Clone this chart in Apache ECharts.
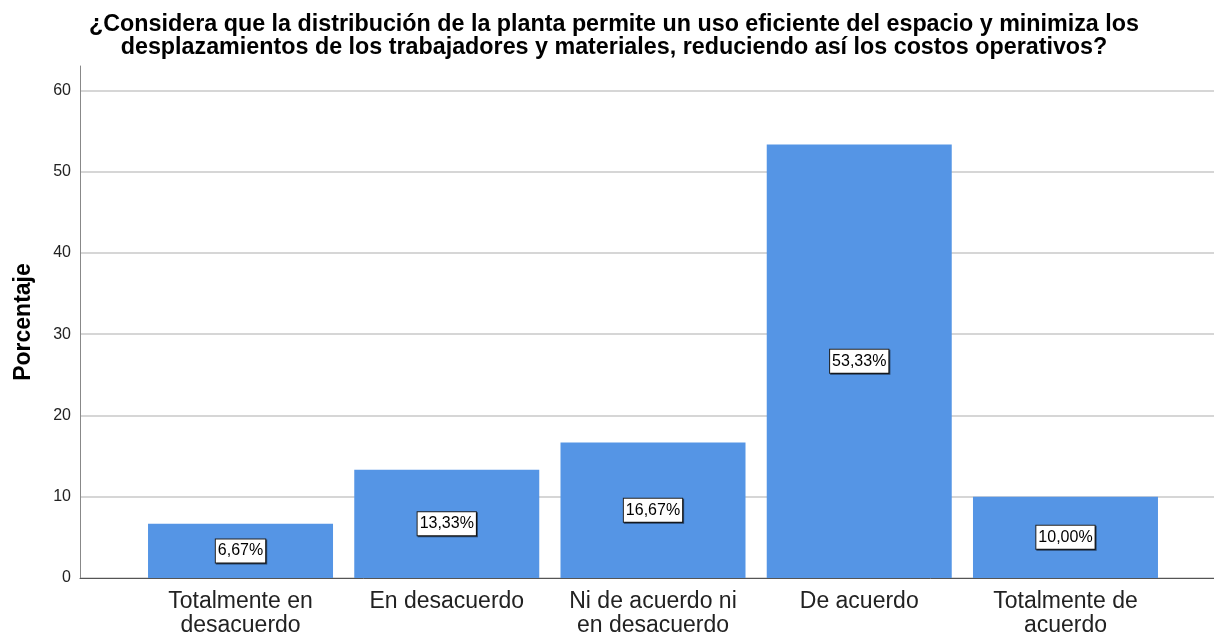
<!DOCTYPE html>
<html>
<head>
<meta charset="utf-8">
<script src="https://cdn.jsdelivr.net/npm/echarts@6/dist/echarts.min.js"></script>
<style>
  html, body { margin: 0; padding: 0; background: #fff; }
  #chart { width: 1214px; height: 634px; }
</style>
</head>
<body>
<div id="chart"></div>
<script>
// categorias y porcentajes
const categories = ['Totalmente en\ndesacuerdo', 'En desacuerdo', 'Ni de acuerdo ni\nen desacuerdo', 'De acuerdo', 'Totalmente de\nacuerdo']
const percentages = [6.67, 13.33, 16.67, 53.33, 10.00]
const yTicks = [0, 10, 20, 30, 40, 50, 60]

const font = 'Liberation Sans, Arial, sans-serif'
const chart = echarts.init(document.getElementById('chart'))

chart.setOption({
  backgroundColor: '#fff',
  animation: false,
  title: {
    text: '¿Considera que la distribución de la planta permite un uso eficiente del espacio y minimiza los\ndesplazamientos de los trabajadores y materiales, reduciendo así los costos operativos?',
    left: 609,
    textAlign: 'center',
    top: 8,
    textStyle: { fontFamily: font, fontSize: 23.3, fontWeight: 'bold', color: '#000', lineHeight: 23 }
  },
  grid: [
    // eje Y con lineas de fondo
    { left: 80, right: 0, top: 66, bottom: 56, outerBoundsMode: 'none' },
    // barras
    { left: 137.4, right: 45.4, top: 66, bottom: 56, outerBoundsMode: 'none' }
  ],
  xAxis: [
    {
      gridIndex: 0, type: 'category', data: [''],
      axisLine: { show: true, lineStyle: { color: '#555', width: 1 } },
      axisTick: { show: false }, axisLabel: { show: false }, splitLine: { show: false }
    },
    {
      gridIndex: 1, type: 'category', data: categories,
      axisLine: { show: false }, axisTick: { show: false },
      axisLabel: { fontFamily: font, fontSize: 23, color: '#222', lineHeight: 24, margin: 12, interval: 0 }
    }
  ],
  yAxis: [
    {
      gridIndex: 0, type: 'value', min: 0, max: 63, interval: 10,
      name: 'Porcentaje', nameLocation: 'middle', nameGap: 45,
      nameTextStyle: { fontFamily: font, fontSize: 23, fontWeight: 'bold', color: '#000' },
      axisLine: { show: true, lineStyle: { color: '#888' } },
      axisTick: { show: false },
      axisLabel: {
        fontFamily: font, fontSize: 16, color: '#222', margin: 9,
        showMaxLabel: false,
        formatter: v => (yTicks.indexOf(v) >= 0 ? String(v) : '')
      },
      splitLine: { show: true, showMaxLine: false, lineStyle: { color: '#c8c8c8', width: 1.5 } }
    },
    {
      gridIndex: 1, type: 'value', min: 0, max: 63, show: false
    }
  ],
  series: [
    {
      type: 'bar',
      xAxisIndex: 1,
      yAxisIndex: 1,
      barWidth: 185,
      data: percentages,
      itemStyle: { color: '#5595e5' },
      label: {
        show: true,
        position: 'inside',
        formatter: p => p.value.toFixed(2).replace('.', ',') + '%',
        fontFamily: font,
        fontSize: 16,
        color: '#000',
        backgroundColor: '#fff',
        borderColor: '#222',
        borderWidth: 1,
        padding: [4, 2, 3, 2],
        shadowColor: 'rgba(0,0,0,0.55)',
        shadowOffsetX: 1,
        shadowOffsetY: 1,
        shadowBlur: 0
      }
    }
  ]
})
</script>
</body>
</html>
